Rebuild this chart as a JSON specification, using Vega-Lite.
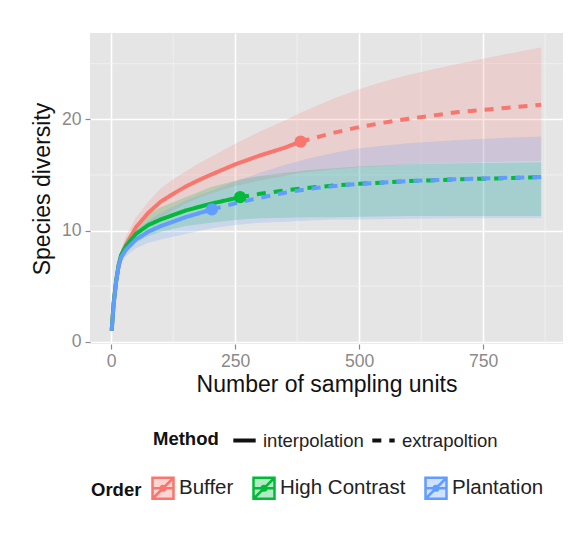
{
  "$schema": "https://vega.github.io/schema/vega-lite/v6.json",
  "width": 473,
  "height": 311,
  "autosize": {"type": "none"},
  "padding": {"left": 90, "top": 33, "right": 24, "bottom": 195},
  "background": "white",
  "config": {
    "font": "Liberation Sans",
    "view": {"fill": "#E5E5E5", "stroke": null},
    "axis": {
      "domain": false,
      "grid": true,
      "gridColor": "#FFFFFF",
      "gridWidth": 1.6,
      "tickColor": "#8A8A8A",
      "tickSize": 5,
      "tickWidth": 1.2,
      "labelColor": "#8A8A8A",
      "labelFontSize": 17.6,
      "labelFont": "Liberation Sans",
      "titleFont": "Liberation Sans",
      "titleFontSize": 23,
      "titleFontWeight": "normal",
      "titleColor": "#111111"
    },
    "legend": {
      "labelFont": "Liberation Sans",
      "titleFont": "Liberation Sans",
      "labelFontSize": 18.5,
      "titleFontSize": 18.5,
      "titleFontWeight": "bold",
      "labelColor": "#222222",
      "titleColor": "#111111"
    }
  },
  "datasets": {
    "curves": [
      {"Order": "Buffer", "Method": "interpolation", "x": 1, "y": 1.0, "lo": 1.0, "hi": 1.0},
      {"Order": "Buffer", "Method": "interpolation", "x": 5, "y": 3.4, "lo": 3.2, "hi": 3.6},
      {"Order": "Buffer", "Method": "interpolation", "x": 10, "y": 5.4, "lo": 5.1, "hi": 5.8},
      {"Order": "Buffer", "Method": "interpolation", "x": 15, "y": 6.8, "lo": 6.4, "hi": 7.3},
      {"Order": "Buffer", "Method": "interpolation", "x": 20, "y": 7.7, "lo": 7.2, "hi": 8.3},
      {"Order": "Buffer", "Method": "interpolation", "x": 30, "y": 8.7, "lo": 8.0, "hi": 9.5},
      {"Order": "Buffer", "Method": "interpolation", "x": 50, "y": 10.3, "lo": 9.5, "hi": 11.2},
      {"Order": "Buffer", "Method": "interpolation", "x": 75, "y": 11.6, "lo": 10.3, "hi": 12.6},
      {"Order": "Buffer", "Method": "interpolation", "x": 100, "y": 12.6, "lo": 11.1, "hi": 13.8},
      {"Order": "Buffer", "Method": "interpolation", "x": 125, "y": 13.3, "lo": 11.8, "hi": 14.6},
      {"Order": "Buffer", "Method": "interpolation", "x": 150, "y": 13.95, "lo": 12.4, "hi": 15.3},
      {"Order": "Buffer", "Method": "interpolation", "x": 175, "y": 14.5, "lo": 12.9, "hi": 16.0},
      {"Order": "Buffer", "Method": "interpolation", "x": 200, "y": 15.0, "lo": 13.3, "hi": 16.6},
      {"Order": "Buffer", "Method": "interpolation", "x": 250, "y": 15.95, "lo": 14.0, "hi": 17.8},
      {"Order": "Buffer", "Method": "interpolation", "x": 300, "y": 16.75, "lo": 14.5, "hi": 18.9},
      {"Order": "Buffer", "Method": "interpolation", "x": 350, "y": 17.45, "lo": 14.9, "hi": 19.9},
      {"Order": "Buffer", "Method": "interpolation", "x": 382, "y": 18.0, "lo": 15.2, "hi": 20.6},
      {"Order": "Buffer", "Method": "extrapoltion", "x": 382, "y": 18.0, "lo": 15.2, "hi": 20.6},
      {"Order": "Buffer", "Method": "extrapoltion", "x": 450, "y": 18.8, "lo": 15.5, "hi": 21.9},
      {"Order": "Buffer", "Method": "extrapoltion", "x": 500, "y": 19.3, "lo": 15.7, "hi": 22.7},
      {"Order": "Buffer", "Method": "extrapoltion", "x": 550, "y": 19.7, "lo": 15.8, "hi": 23.4},
      {"Order": "Buffer", "Method": "extrapoltion", "x": 600, "y": 20.05, "lo": 15.95, "hi": 24.0},
      {"Order": "Buffer", "Method": "extrapoltion", "x": 650, "y": 20.35, "lo": 16.05, "hi": 24.5},
      {"Order": "Buffer", "Method": "extrapoltion", "x": 700, "y": 20.65, "lo": 16.1, "hi": 25.0},
      {"Order": "Buffer", "Method": "extrapoltion", "x": 750, "y": 20.85, "lo": 16.15, "hi": 25.45},
      {"Order": "Buffer", "Method": "extrapoltion", "x": 800, "y": 21.05, "lo": 16.2, "hi": 25.9},
      {"Order": "Buffer", "Method": "extrapoltion", "x": 867, "y": 21.3, "lo": 16.25, "hi": 26.45},
      {"Order": "High Contrast", "Method": "interpolation", "x": 1, "y": 1.0, "lo": 1.0, "hi": 1.0},
      {"Order": "High Contrast", "Method": "interpolation", "x": 5, "y": 3.5, "lo": 3.3, "hi": 3.7},
      {"Order": "High Contrast", "Method": "interpolation", "x": 10, "y": 5.5, "lo": 5.2, "hi": 5.8},
      {"Order": "High Contrast", "Method": "interpolation", "x": 15, "y": 6.9, "lo": 6.5, "hi": 7.3},
      {"Order": "High Contrast", "Method": "interpolation", "x": 20, "y": 7.8, "lo": 7.3, "hi": 8.3},
      {"Order": "High Contrast", "Method": "interpolation", "x": 30, "y": 8.6, "lo": 8.0, "hi": 9.2},
      {"Order": "High Contrast", "Method": "interpolation", "x": 50, "y": 9.7, "lo": 8.9, "hi": 10.5},
      {"Order": "High Contrast", "Method": "interpolation", "x": 75, "y": 10.5, "lo": 9.5, "hi": 11.5},
      {"Order": "High Contrast", "Method": "interpolation", "x": 100, "y": 11.0, "lo": 9.9, "hi": 12.1},
      {"Order": "High Contrast", "Method": "interpolation", "x": 150, "y": 11.8, "lo": 10.4, "hi": 13.0},
      {"Order": "High Contrast", "Method": "interpolation", "x": 200, "y": 12.4, "lo": 10.7, "hi": 13.9},
      {"Order": "High Contrast", "Method": "interpolation", "x": 260, "y": 13.0, "lo": 11.0, "hi": 14.6},
      {"Order": "High Contrast", "Method": "extrapoltion", "x": 260, "y": 13.0, "lo": 11.0, "hi": 14.6},
      {"Order": "High Contrast", "Method": "extrapoltion", "x": 300, "y": 13.3, "lo": 11.1, "hi": 14.9},
      {"Order": "High Contrast", "Method": "extrapoltion", "x": 350, "y": 13.6, "lo": 11.15, "hi": 15.2},
      {"Order": "High Contrast", "Method": "extrapoltion", "x": 400, "y": 13.85, "lo": 11.2, "hi": 15.45},
      {"Order": "High Contrast", "Method": "extrapoltion", "x": 450, "y": 14.05, "lo": 11.2, "hi": 15.6},
      {"Order": "High Contrast", "Method": "extrapoltion", "x": 500, "y": 14.2, "lo": 11.25, "hi": 15.75},
      {"Order": "High Contrast", "Method": "extrapoltion", "x": 600, "y": 14.45, "lo": 11.3, "hi": 15.95},
      {"Order": "High Contrast", "Method": "extrapoltion", "x": 700, "y": 14.6, "lo": 11.3, "hi": 16.05},
      {"Order": "High Contrast", "Method": "extrapoltion", "x": 800, "y": 14.72, "lo": 11.3, "hi": 16.1},
      {"Order": "High Contrast", "Method": "extrapoltion", "x": 867, "y": 14.8, "lo": 11.3, "hi": 16.15},
      {"Order": "Plantation", "Method": "interpolation", "x": 1, "y": 1.0, "lo": 1.0, "hi": 1.0},
      {"Order": "Plantation", "Method": "interpolation", "x": 5, "y": 3.4, "lo": 3.2, "hi": 3.6},
      {"Order": "Plantation", "Method": "interpolation", "x": 10, "y": 5.4, "lo": 5.1, "hi": 5.7},
      {"Order": "Plantation", "Method": "interpolation", "x": 15, "y": 6.8, "lo": 6.4, "hi": 7.2},
      {"Order": "Plantation", "Method": "interpolation", "x": 20, "y": 7.6, "lo": 7.1, "hi": 8.1},
      {"Order": "Plantation", "Method": "interpolation", "x": 30, "y": 8.3, "lo": 7.7, "hi": 8.9},
      {"Order": "Plantation", "Method": "interpolation", "x": 50, "y": 9.2, "lo": 8.4, "hi": 10.0},
      {"Order": "Plantation", "Method": "interpolation", "x": 75, "y": 9.9, "lo": 8.9, "hi": 10.9},
      {"Order": "Plantation", "Method": "interpolation", "x": 100, "y": 10.4, "lo": 9.2, "hi": 11.6},
      {"Order": "Plantation", "Method": "interpolation", "x": 150, "y": 11.2, "lo": 9.7, "hi": 12.7},
      {"Order": "Plantation", "Method": "interpolation", "x": 203, "y": 11.9, "lo": 10.2, "hi": 13.6},
      {"Order": "Plantation", "Method": "extrapoltion", "x": 203, "y": 11.9, "lo": 10.2, "hi": 13.6},
      {"Order": "Plantation", "Method": "extrapoltion", "x": 250, "y": 12.45, "lo": 10.5, "hi": 14.4},
      {"Order": "Plantation", "Method": "extrapoltion", "x": 300, "y": 12.95, "lo": 10.7, "hi": 15.2},
      {"Order": "Plantation", "Method": "extrapoltion", "x": 350, "y": 13.4, "lo": 10.8, "hi": 15.9},
      {"Order": "Plantation", "Method": "extrapoltion", "x": 400, "y": 13.75, "lo": 10.9, "hi": 16.5},
      {"Order": "Plantation", "Method": "extrapoltion", "x": 450, "y": 14.0, "lo": 11.0, "hi": 17.0},
      {"Order": "Plantation", "Method": "extrapoltion", "x": 500, "y": 14.2, "lo": 11.0, "hi": 17.4},
      {"Order": "Plantation", "Method": "extrapoltion", "x": 600, "y": 14.45, "lo": 11.05, "hi": 17.85},
      {"Order": "Plantation", "Method": "extrapoltion", "x": 700, "y": 14.62, "lo": 11.1, "hi": 18.15},
      {"Order": "Plantation", "Method": "extrapoltion", "x": 800, "y": 14.74, "lo": 11.1, "hi": 18.35},
      {"Order": "Plantation", "Method": "extrapoltion", "x": 867, "y": 14.82, "lo": 11.1, "hi": 18.45}
    ],
    "minorx": [{"v": 125}, {"v": 375}, {"v": 625}, {"v": 875}],
    "minory": [{"v": 5}, {"v": 15}, {"v": 25}]
  },
  "layer": [
    {
      "data": {"name": "minorx"},
      "mark": {"type": "rule", "color": "#F2F2F2", "strokeWidth": 0.8},
      "encoding": {
        "x": {"field": "v", "type": "quantitative", "title": "Number of sampling units",
              "scale": {"domain": [-42.7, 911], "nice": false, "zero": false},
              "axis": {"values": [0, 250, 500, 750], "labelPadding": 3, "titlePadding": 4}}
      }
    },
    {
      "data": {"name": "minory"},
      "mark": {"type": "rule", "color": "#F2F2F2", "strokeWidth": 0.8},
      "encoding": {
        "y": {"field": "v", "type": "quantitative", "title": "Species diversity",
              "scale": {"domain": [-0.2, 27.76], "nice": false, "zero": false},
              "axis": {"values": [0, 10, 20], "labelPadding": 4, "titlePadding": 7}}
      }
    },
    {
      "data": {"name": "curves"},
      "mark": {"type": "area", "opacity": 0.2},
      "encoding": {
        "x": {"field": "x", "type": "quantitative", "title": "Number of sampling units"},
        "y": {"field": "lo", "type": "quantitative", "title": "Species diversity"},
        "y2": {"field": "hi"},
        "color": {
          "field": "Order", "type": "nominal",
          "scale": {"domain": ["Buffer", "High Contrast", "Plantation"], "range": ["#F8766D", "#00BA38", "#619CFF"]},
          "legend": {
            "title": "Order", "orient": "none", "legendX": 1, "legendY": 443,
            "direction": "horizontal", "titleOrient": "left", "titlePadding": 9,
            "labelFontSize": 20.5,
            "symbolType": "M-1,-1H1V1H-1Z M-1,1L1,-1 M-1,0H1 M-0.22,0A0.22,0.22,0,1,1,0.22,0A0.22,0.22,0,1,1,-0.22,0Z",
            "symbolSize": 441, "labelOffset": 4, "columnPadding": 14,
            "symbolOpacity": 1, "symbolStrokeWidth": 2.5,
            "encode": {"symbols": {"update": {
              "fill": {"scale": "color", "field": "value"},
              "fillOpacity": {"value": 0.3},
              "stroke": {"scale": "color", "field": "value"},
              "strokeWidth": {"value": 2.5},
              "opacity": {"value": 1}
            }}}
          }
        }
      }
    },
    {
      "data": {"name": "curves"},
      "mark": {"type": "line", "strokeWidth": 4},
      "encoding": {
        "x": {"field": "x", "type": "quantitative", "title": "Number of sampling units"},
        "y": {"field": "y", "type": "quantitative", "title": "Species diversity"},
        "color": {"field": "Order", "type": "nominal"},
        "strokeDash": {
          "field": "Method", "type": "nominal",
          "scale": {"domain": ["interpolation", "extrapoltion"], "range": [[1, 0], [9, 8]]},
          "legend": {
            "title": "Method", "orient": "none", "legendX": 63, "legendY": 394,
            "direction": "horizontal", "titleOrient": "left", "titlePadding": 12,
            "symbolType": "stroke", "symbolStrokeColor": "#111111", "symbolStrokeWidth": 4,
            "symbolSize": 500, "labelOffset": 5, "columnPadding": 0
          }
        }
      }
    },
    {
      "data": {"name": "curves"},
      "transform": [
        {"filter": "datum.Method === 'interpolation'"},
        {"joinaggregate": [{"op": "max", "field": "x", "as": "xmax"}], "groupby": ["Order"]},
        {"filter": "datum.x === datum.xmax"}
      ],
      "mark": {"type": "point", "filled": true, "size": 150, "opacity": 1},
      "encoding": {
        "x": {"field": "x", "type": "quantitative", "title": "Number of sampling units"},
        "y": {"field": "y", "type": "quantitative", "title": "Species diversity"},
        "color": {"field": "Order", "type": "nominal"}
      }
    }
  ]
}
